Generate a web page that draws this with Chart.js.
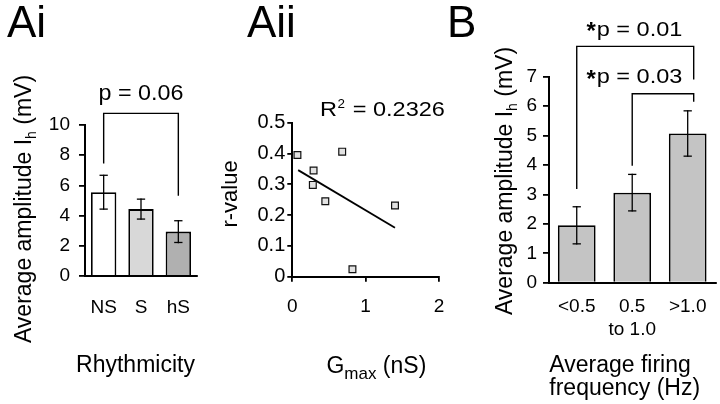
<!DOCTYPE html>
<html><head><meta charset="utf-8">
<script src="https://cdn.jsdelivr.net/npm/chart.js@4.4.0/dist/chart.umd.min.js"></script>
<style>
html,body{margin:0;padding:0;background:#fff;}
#wrap{position:relative;width:720px;height:404px;overflow:hidden;background:#fff;}
canvas{position:absolute;left:0;top:0;}
</style></head><body>
<div id="wrap">
<canvas id="cA1" width="720" height="404"></canvas>
<canvas id="cA2" width="720" height="404"></canvas>
<canvas id="cB" width="720" height="404"></canvas>
</div>
<script>
// ---------- data ----------
const rhythmCategories = ['NS', 'S', 'hS'];
const rhythmMeans = [5.55, 4.43, 2.94];
const rhythmSEM = [1.12, 0.66, 0.72];
const rhythmTicks = [0, 2, 4, 6, 8, 10];

const gmaxValues = [0.07, 0.29, 0.28, 0.45, 0.68, 0.82, 1.40];
const rValues = [0.395, 0.345, 0.298, 0.245, 0.406, 0.024, 0.231];
const fitGmax = [0.08, 1.40];
const fitR = [0.346, 0.159];
const gmaxTicks = [0, 1, 2];
const rTicks = [0, 0.1, 0.2, 0.3, 0.4, 0.5];

const freqCategories = ['<0.5', ['0.5', 'to 1.0'], '>1.0'];
const freqMeans = [1.95, 3.06, 5.07];
const freqSEM = [0.63, 0.62, 0.77];
const freqTicks = [0, 1, 2, 3, 4, 5, 6, 7];

// ---------- helpers ----------
const FONT = "'Liberation Sans', Arial, Helvetica, sans-serif";
Chart.defaults.font.family = FONT;
Chart.defaults.color = '#000';
Chart.defaults.animation = false;

function txt(ctx, parts, x, y, opts) {
  opts = opts || {};
  const align = opts.align || 'center';
  ctx.save();
  ctx.translate(x, y);
  if (opts.rot) ctx.rotate(opts.rot);
  if (opts.sx) ctx.scale(opts.sx, 1);
  let w = 0;
  parts.forEach(p => { ctx.font = (p.b ? 'bold ' : '') + p.s + 'px ' + FONT; p.w = ctx.measureText(p.t).width + (p.dx || 0); w += p.w; });
  let cx = align === 'center' ? -w / 2 : (align === 'right' ? -w : 0);
  ctx.fillStyle = '#000'; ctx.textAlign = 'left'; ctx.textBaseline = 'alphabetic';
  parts.forEach(p => { ctx.font = (p.b ? 'bold ' : '') + p.s + 'px ' + FONT; ctx.fillText(p.t, cx + (p.dx || 0), p.dy || 0); cx += p.w; });
  ctx.restore();
}
function line(ctx, pts, w) {
  ctx.save(); ctx.strokeStyle = '#000'; ctx.lineWidth = w || 1.4; ctx.lineCap = 'square';
  ctx.beginPath();
  pts.forEach((p, i) => i ? ctx.lineTo(p[0], p[1]) : ctx.moveTo(p[0], p[1]));
  ctx.stroke(); ctx.restore();
}
function errorBars(chart, means, errs, cap) {
  const meta = chart.getDatasetMeta(0), ys = chart.scales.y, ctx = chart.ctx;
  meta.data.forEach((bar, i) => {
    const t = ys.getPixelForValue(means[i] + errs[i]);
    const b = ys.getPixelForValue(means[i] - errs[i]);
    line(ctx, [[bar.x, t], [bar.x, b]], 1.3);
    line(ctx, [[bar.x - cap, t], [bar.x + cap, t]], 1.3);
    line(ctx, [[bar.x - cap, b], [bar.x + cap, b]], 1.3);
  });
}
function bracket(chart, i, j, top, leftEnd, rightEnd, rightShift) {
  const meta = chart.getDatasetMeta(0), ys = chart.scales.y;
  const x1 = meta.data[i].x, x2 = meta.data[j].x + (rightShift || 0);
  const yt = ys.getPixelForValue(top);
  line(chart.ctx, [[x1, ys.getPixelForValue(leftEnd)], [x1, yt], [x2, yt], [x2, ys.getPixelForValue(rightEnd)]], 1.4);
  return { x1: x1, x2: x2, yt: yt };
}
function axisStyle(tickLen) {
  return {
    grid: { display: tickLen > 0, drawOnChartArea: false, drawTicks: tickLen > 0, tickLength: tickLen, color: '#000', lineWidth: 1.8 },
    border: { display: true, color: '#000', width: 2 }
  };
}

// ---------- Panel Ai ----------
new Chart(document.getElementById('cA1'), {
  type: 'bar',
  data: {
    labels: rhythmCategories,
    datasets: [{ data: rhythmMeans, backgroundColor: ['#ffffff', '#d8d8d8', '#b0b0b0'], borderColor: '#000', borderWidth: 1.8, borderSkipped: 'bottom', barPercentage: 0.68, categoryPercentage: 1 }]
  },
  options: {
    responsive: false, animation: false,
    layout: { padding: { left: 0, top: 125, right: 523, bottom: 68 } },
    plugins: { legend: { display: false }, tooltip: { enabled: false } },
    scales: {
      x: Object.assign(axisStyle(0), { ticks: { font: { size: 19 }, color: '#000', padding: 20, maxRotation: 0 }, afterFit: s => { s.height = 60; } }),
      y: Object.assign(axisStyle(6), { min: 0, max: 10,
        afterBuildTicks: s => { s.ticks = rhythmTicks.map(v => ({ value: v })); },
        ticks: { font: { size: 19 }, color: '#000', padding: 9 }, afterFit: s => { s.width = 85; } })
    }
  },
  plugins: [{ id: 'annA1', afterDraw(chart) {
    const ctx = chart.ctx;
    errorBars(chart, rhythmMeans, rhythmSEM, 3.5);
    const br = bracket(chart, 0, 2, 10.77, 7.5, 5.36, 0);
    txt(ctx, [{ t: 'p = 0.06', s: 22 }], (br.x1 + br.x2) / 2, br.yt - 13, { sx: 1.06 });
    txt(ctx, [{ t: 'Ai', s: 44 }], 7, 37, { align: 'left' });
    txt(ctx, [{ t: 'Average amplitude I', s: 23 }, { t: 'h', s: 14, dy: 5 }, { t: ' (mV)', s: 23 }], 31, 209, { rot: -Math.PI / 2 });
    txt(ctx, [{ t: 'Rhythmicity', s: 23 }], 135.5, 371.7);
  } }]
});

// ---------- Panel Aii ----------
new Chart(document.getElementById('cA2'), {
  type: 'scatter',
  data: {
    datasets: [
      { data: gmaxValues.map((x, i) => ({ x: x, y: rValues[i] })), pointStyle: 'rect', pointRadius: 4.8, backgroundColor: '#e2e2e2', borderColor: '#111', borderWidth: 1.2, order: 0 },
      { type: 'line', data: fitGmax.map((x, i) => ({ x: x, y: fitR[i] })), borderColor: '#000', borderWidth: 1.8, pointRadius: 0, showLine: true, fill: false, order: 1 }
    ]
  },
  options: {
    responsive: false, animation: false,
    layout: { padding: { left: 0, top: 122.7, right: 281, bottom: 67.3 } },
    plugins: { legend: { display: false }, tooltip: { enabled: false } },
    scales: {
      x: Object.assign(axisStyle(5), { type: 'linear', min: 0, max: 2,
        afterBuildTicks: s => { s.ticks = gmaxTicks.map(v => ({ value: v })); },
        ticks: { font: { size: 19 }, color: '#000', padding: 14, maxRotation: 0 }, afterFit: s => { s.height = 60; } }),
      y: Object.assign(axisStyle(5), { min: 0, max: 0.5,
        afterBuildTicks: s => { s.ticks = rTicks.map(v => ({ value: v })); },
        ticks: { font: { size: 20 }, color: '#000', padding: 2, callback: v => v === 0 ? '0' : v.toFixed(1) },
        afterFit: s => { s.width = 292.3; } })
    }
  },
  plugins: [{ id: 'annA2', afterDraw(chart) {
    const ctx = chart.ctx;
    txt(ctx, [{ t: 'Aii', s: 44 }], 247, 37, { align: 'left' });
    txt(ctx, [{ t: 'r-value', s: 22 }], 236.5, 194, { rot: -Math.PI / 2 });
    txt(ctx, [{ t: 'G', s: 23 }, { t: 'max', s: 17, dy: 6 }, { t: ' (nS)', s: 23 }], 376.4, 372.7);
    txt(ctx, [{ t: 'R', s: 21 }, { t: '2', s: 12, dy: -8.5, dx: 0.5 }, { t: ' = 0.2326', s: 21, dx: 1 }], 320, 116, { align: 'left', sx: 1.12 });
  } }]
});

// ---------- Panel B ----------
new Chart(document.getElementById('cB'), {
  type: 'bar',
  data: {
    labels: freqCategories,
    datasets: [{ data: freqMeans, backgroundColor: '#c4c4c4', borderColor: '#000', borderWidth: 1.8, borderSkipped: 'bottom', barPercentage: 0.68, categoryPercentage: 1 }]
  },
  options: {
    responsive: false, animation: false,
    layout: { padding: { left: 0, top: 76.7, right: 3.3, bottom: 61.3 } },
    plugins: { legend: { display: false }, tooltip: { enabled: false } },
    scales: {
      x: Object.assign(axisStyle(0), { ticks: { font: { size: 19 }, color: '#000', padding: 13, maxRotation: 0 }, afterFit: s => { s.height = 60; } }),
      y: Object.assign(axisStyle(6), { min: 0, max: 7,
        afterBuildTicks: s => { s.ticks = freqTicks.map(v => ({ value: v })); },
        ticks: { font: { size: 19 }, color: '#000', padding: 6 }, afterFit: s => { s.width = 549; } })
    }
  },
  plugins: [{ id: 'annB', afterDraw(chart) {
    const ctx = chart.ctx;
    errorBars(chart, freqMeans, freqSEM, 3.5);
    const b1 = bracket(chart, 0, 2, 8.03, 3.21, 6.93, 6);
    const b2 = bracket(chart, 1, 2, 6.42, 4.0, 6.17, 6);
    [[b1, 'p = 0.01'], [b2, 'p = 0.03']].forEach(([b, label]) => {
      const x0 = chart.getDatasetMeta(0).data[0].x;
      const base = b.yt - 10.7;
      txt(ctx, [{ t: '*', s: 24, b: true }], x0 + 14.5, base + 3.5);
      txt(ctx, [{ t: label, s: 21 }], x0 + 20, base, { align: 'left', sx: 1.12 });
    });
    txt(ctx, [{ t: 'B', s: 44 }], 447, 37, { align: 'left' });
    txt(ctx, [{ t: 'Average amplitude I', s: 23 }, { t: 'h', s: 14, dy: 5 }, { t: ' (mV)', s: 23 }], 511.5, 181, { rot: -Math.PI / 2 });
    txt(ctx, [{ t: 'Average firing', s: 23 }], 620, 371.7);
    txt(ctx, [{ t: 'frequency (Hz)', s: 23 }], 624.7, 395);
  } }]
});
</script>
</body></html>
